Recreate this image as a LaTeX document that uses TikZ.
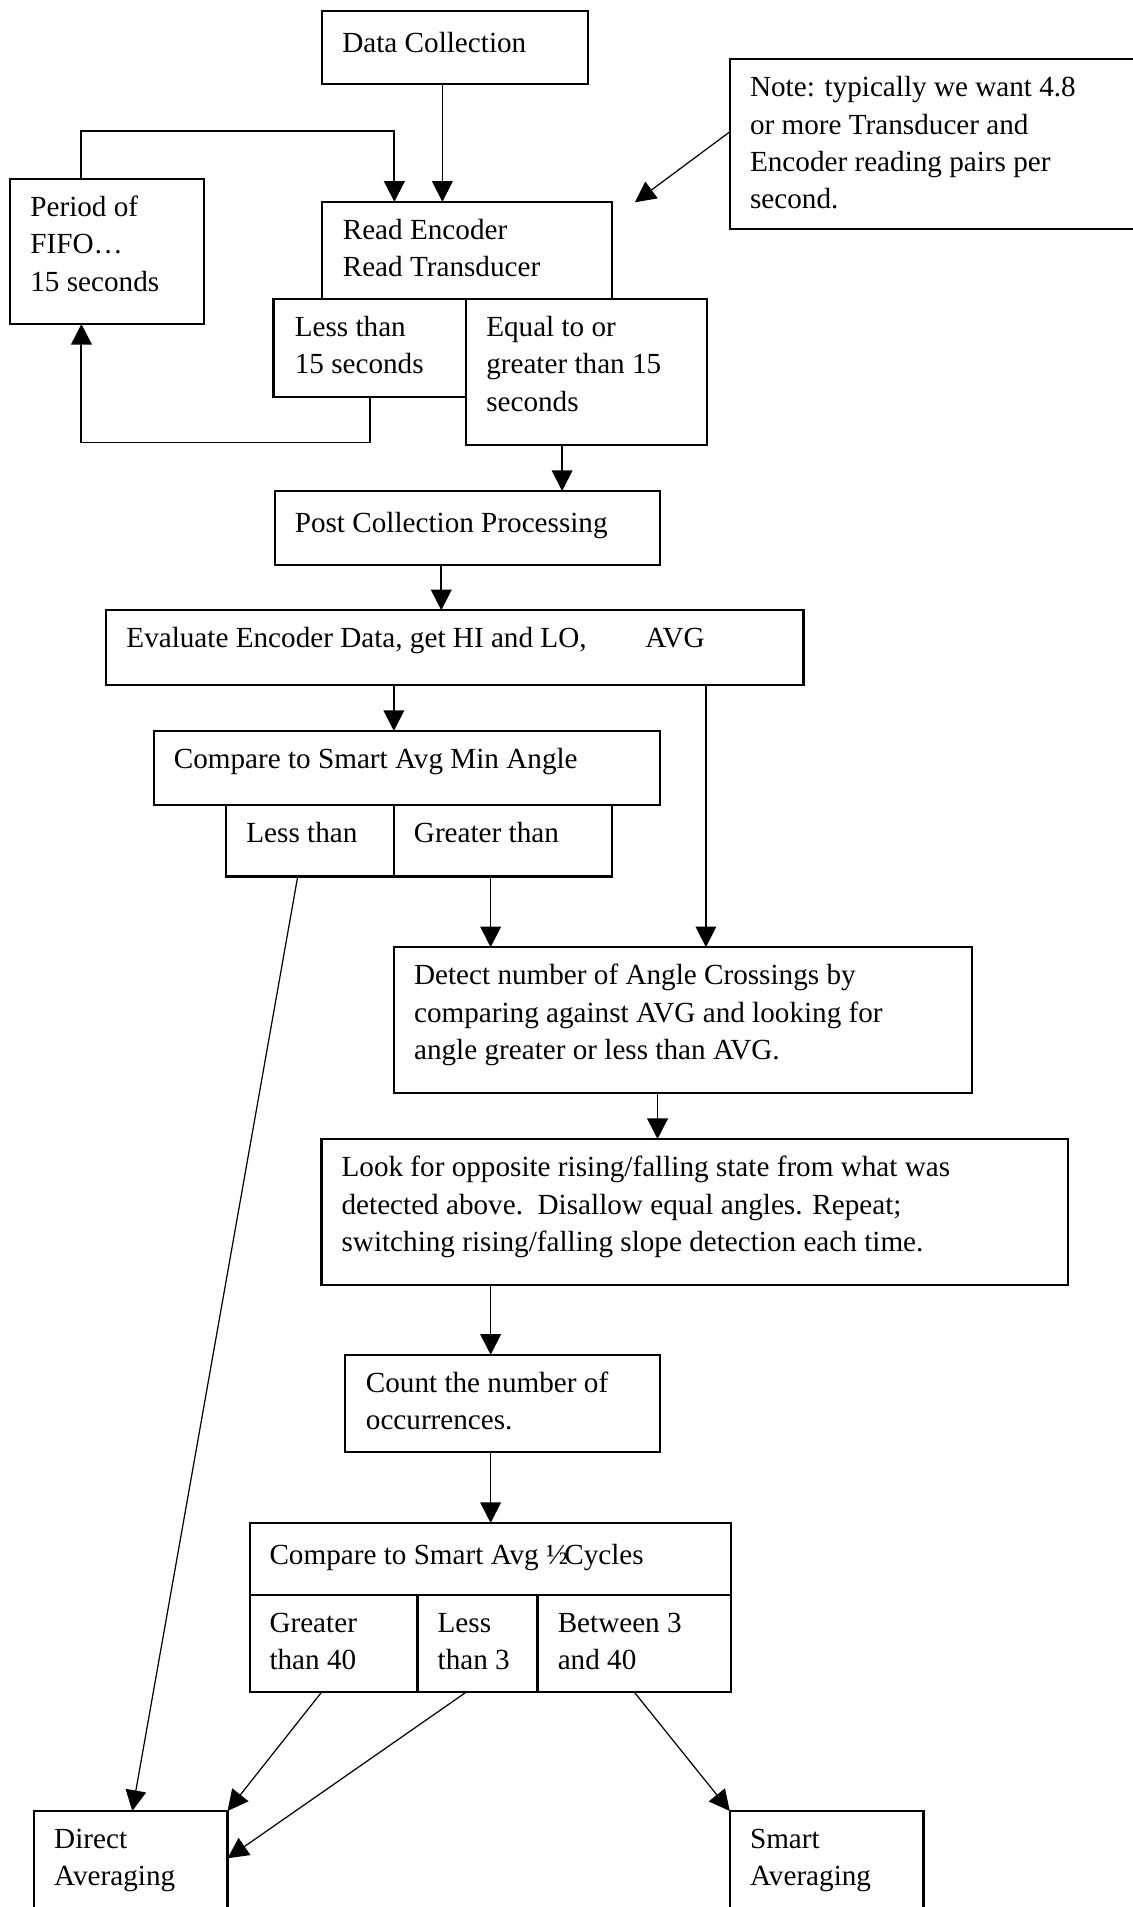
\documentclass[tikz,border=0pt]{standalone}
\usepackage{fontspec}
\setmainfont{Liberation Serif}
\usetikzlibrary{arrows.meta,calc}
\tikzset{
  box/.style={draw, line width=0.9pt, inner sep=0pt, outer sep=0pt, rectangle},
  lbl/.style={anchor=north west, inner sep=0pt, outer sep=0pt, align=left, font=\fontsize{12}{15.35}\selectfont},
  arr/.style={line width=0.7pt, -{Triangle[length=8.5pt,width=8.5pt]}},
  thinarr/.style={line width=0.5pt, -{Triangle[length=8.5pt,width=8.5pt]}},
  loopline/.style={line width=0.8pt}
}
\newcommand\mkbox[5]{\node[box, minimum width={0.5pt*(#4-#2)}, minimum height={0.5pt*(#5-#3)}, anchor=north west] (#1) at (#2,#3) {};}
\newcommand\mklbl[4]{\node[lbl] (#1) at (#2,{#3+11}) {\rule{0pt}{10pt}#4};}
\begin{document}
\begin{tikzpicture}[x=0.5pt,y=-0.5pt]
\useasboundingbox (0,0) rectangle (932,1568.7);
% boxes
\mkbox{dc}{264.6}{8.8}{484}{68.8}
\mkbox{note}{600.5}{48.6}{960}{188.4}
\mkbox{fifo}{8.2}{147}{168}{266.5}
\mkbox{read}{264.6}{166}{503.4}{245.7}
\mkbox{less15}{225}{245.7}{383}{326.5}
\mkbox{ge15}{383}{245.7}{581.8}{366}
\mkbox{post}{225.9}{403.9}{542.6}{464.7}
\mkbox{eval}{87.4}{502}{661}{563.2}
\mkbox{cmpmin}{126.6}{601.3}{542.6}{662}
\mkbox{lt}{186}{662}{324}{721}
\mkbox{gt}{324}{662}{503.4}{721}
\mkbox{detect}{324}{779.2}{799.4}{899}
\mkbox{look}{264.5}{937}{878.5}{1056.7}
\mkbox{count}{284}{1114.4}{542.6}{1194.7}
\mkbox{cmphalf}{205.6}{1252.8}{601.5}{1311.8}
\mkbox{g40}{205.6}{1311.8}{343.5}{1392}
\mkbox{l3}{343.5}{1311.8}{442.2}{1392}
\mkbox{b340}{442.2}{1311.8}{601.5}{1392}
\mkbox{direct}{28}{1489.7}{187.2}{1620}
\mkbox{smart}{600.3}{1489.7}{759.6}{1620}
% labels
\mklbl{tdc}{281.6}{11.8}{Data Collection}
\mklbl{tnote}{617}{48.6}{Note: typically we want 4.8\\or more Transducer and\\Encoder reading pairs per\\second.}
\mklbl{tfifo}{25}{147}{Period of\\FIFO…\\15 seconds}
\mklbl{tread}{282}{166}{Read Encoder\\Read Transducer}
\mklbl{tless15}{242.5}{245.7}{Less than\\15 seconds}
\mklbl{tge15}{400}{245.7}{Equal to or\\greater than 15\\seconds}
\mklbl{tpost}{242.5}{406.9}{Post Collection Processing}
\mklbl{teval}{104}{502}{\makebox[213.4pt][l]{Evaluate Encoder Data, get HI and LO,}AVG}
\mklbl{tcmpmin}{143}{601.3}{Compare to Smart Avg Min Angle}
\mklbl{tlt}{202.7}{662}{Less than}
\mklbl{tgt}{340.5}{662}{Greater than}
\mklbl{tdetect}{340.6}{779.2}{Detect number of Angle Crossings by\\comparing against AVG and looking for\\angle greater or less than AVG.}
\mklbl{tlook}{281}{937}{Look for opposite rising/falling state from what was\\detected above.\ \ Disallow equal angles. Repeat;\\switching rising/falling slope detection each time.}
\mklbl{tcount}{301}{1114.4}{Count the number of\\occurrences.}
\mklbl{tcmphalf}{221.7}{1256.3}{Compare to Smart Avg ½\kern-1.5pt Cycles}
\mklbl{tg40}{221.7}{1311.8}{Greater\\than 40}
\mklbl{tl3}{360}{1311.8}{Less\\than 3}
\mklbl{tb340}{458.8}{1311.8}{Between 3\\and 40}
\mklbl{tdirect}{44.6}{1489.7}{Direct\\Averaging}
\mklbl{tsmart}{617}{1489.7}{Smart\\Averaging}
% helper coordinates
\coordinate (xdc) at (363.9,0);
\coordinate (xloop) at (324.4,0);
\coordinate (xfifo) at (67,0);
\coordinate (yloopt) at (0,107.8);
\coordinate (xless) at (304,0);
\coordinate (yloopb) at (0,364);
\coordinate (ynote) at (0,108.3);
\coordinate (ntip) at (522.3,166.4);
\coordinate (xge) at (462.4,0);
\coordinate (xpost) at (363,0);
\coordinate (xevA) at (324,0);
\coordinate (xevB) at (580.7,0);
\coordinate (xgt) at (403.6,0);
\coordinate (xlt) at (244.9,0);
\coordinate (xdir) at (108.8,0);
\coordinate (xdet) at (540.9,0);
\coordinate (xlook) at (403.6,0);
\coordinate (xg40) at (264.5,0);
\coordinate (xl3) at (383.4,0);
\coordinate (yl3) at (0,1528.6);
\coordinate (xb) at (521.8,0);
% connectors
\draw[arr] (dc.south -| xdc) -- (read.north -| xdc);
\draw[arr, line width=0.8pt] (fifo.north -| xfifo) -- (xfifo |- yloopt) -- (xloop |- yloopt) -- (read.north -| xloop);
\draw[arr, line width=0.8pt] (less15.south -| xless) -- (xless |- yloopb) -- (xfifo |- yloopb) -- (fifo.south -| xfifo);
\draw[thinarr] (note.west |- ynote) -- (ntip);
\draw[arr] (ge15.south -| xge) -- (post.north -| xge);
\draw[arr] (post.south -| xpost) -- (eval.north -| xpost);
\draw[arr] (eval.south -| xevA) -- (cmpmin.north -| xevA);
\draw[thinarr] (eval.south -| xevB) -- (detect.north -| xevB);
\draw[arr] (gt.south -| xgt) -- (detect.north -| xgt);
\draw[thinarr] (lt.south -| xlt) -- (direct.north -| xdir);
\draw[arr] (detect.south -| xdet) -- (look.north -| xdet);
\draw[arr] (look.south -| xlook) -- (count.north -| xlook);
\draw[arr] (count.south -| xlook) -- (cmphalf.north -| xlook);
\draw[thinarr] (g40.south -| xg40) -- (direct.north east);
\draw[thinarr] (l3.south -| xl3) -- (direct.east |- yl3);
\draw[thinarr] (b340.south -| xb) -- (smart.north west);
\end{tikzpicture}
\end{document}
